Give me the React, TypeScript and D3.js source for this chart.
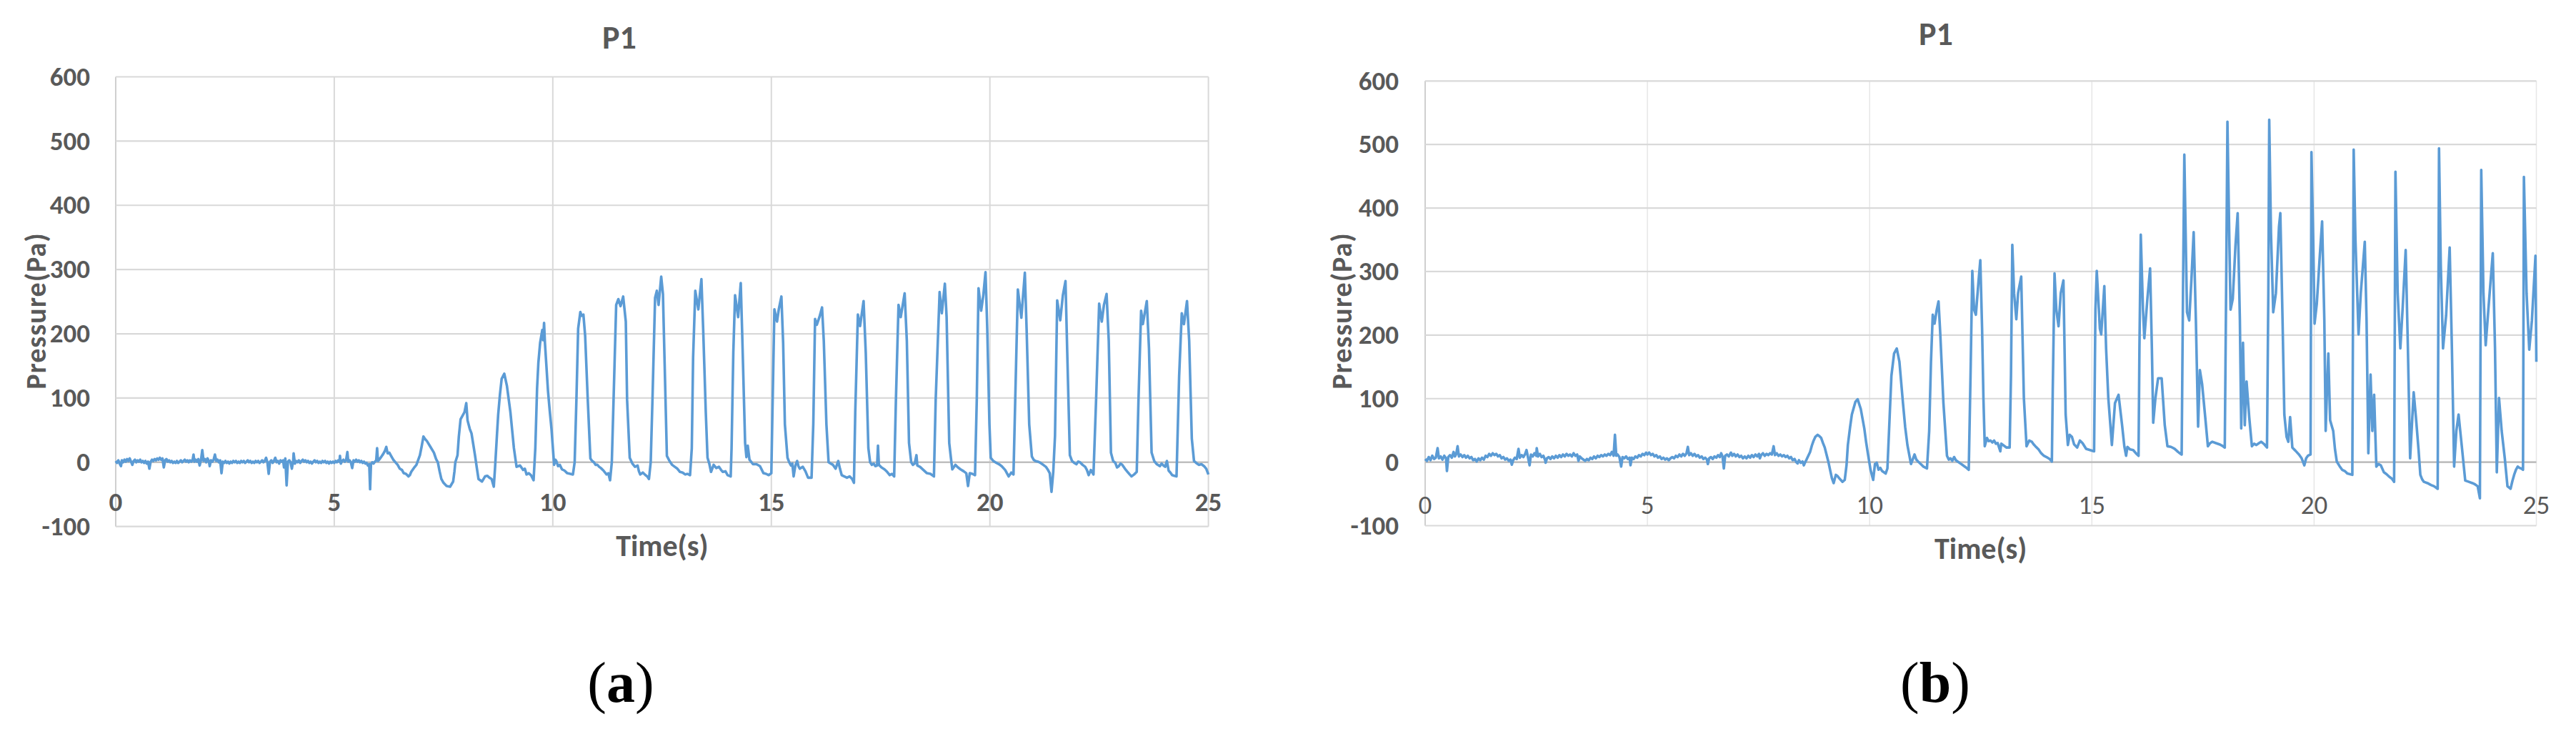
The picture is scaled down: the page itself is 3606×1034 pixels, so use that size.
import React from 'react';
import * as d3 from 'd3';

const yTicks = [-100, 0, 100, 200, 300, 400, 500, 600];
const xTicks = [0, 5, 10, 15, 20, 25];
const panelTitles = ['P1', 'P1'];
const panelLetters = ['a', 'b'];
const xTitle = 'Time(s)';
const yTitle = 'Pressure(Pa)';

// (a) time [s], pressure [Pa]
const seriesA: [number, number][] = [
  [0, 2], [0.03, -1], [0.06, 3], [0.09, -2], [0.12, -6], [0.14, 3], [0.17, 0], [0.2, 4], [0.23, 1], [0.26, 5],
  [0.29, 2], [0.32, 6], [0.35, 1], [0.38, -4], [0.41, 2], [0.44, 4], [0.47, 0], [0.5, 3], [0.53, 1], [0.56, 4],
  [0.59, 0], [0.62, 2], [0.65, -1], [0.68, 2], [0.71, -2], [0.74, 1], [0.77, -10], [0.8, 1], [0.83, 4], [0.86, 2],
  [0.89, 5], [0.92, 3], [0.95, 6], [0.98, 4], [1.01, 7], [1.04, 4], [1.07, 6], [1.1, -8], [1.13, 3], [1.16, 5],
  [1.19, 1], [1.22, 3], [1.25, 0], [1.28, 2], [1.31, -1], [1.34, 1], [1.37, -1], [1.4, 2], [1.43, -1], [1.46, 1],
  [1.49, 3], [1.52, 0], [1.55, 2], [1.58, 4], [1.61, 1], [1.64, 3], [1.67, 0], [1.7, 3], [1.73, 1], [1.76, 4],
  [1.78, 12], [1.8, 1], [1.83, 4], [1.86, 1], [1.89, 5], [1.92, -5], [1.95, 3], [1.98, 19], [2.01, 2], [2.04, 5],
  [2.07, 0], [2.1, 6], [2.13, 2], [2.15, -6], [2.18, 3], [2.21, 1], [2.24, 4], [2.27, 12], [2.3, 2], [2.33, 4],
  [2.36, 0], [2.39, 3], [2.42, -17], [2.45, 1], [2.48, -1], [2.51, 2], [2.54, -1], [2.57, 1], [2.6, -2], [2.63, 1],
  [2.66, -1], [2.69, 2], [2.72, 0], [2.75, 2], [2.78, -1], [2.81, 1], [2.84, -1], [2.87, 2], [2.9, 0], [2.93, 2],
  [2.96, -1], [2.99, 1], [3.02, 3], [3.05, 0], [3.08, 2], [3.11, -1], [3.14, 1], [3.17, -1], [3.2, 2], [3.23, 0],
  [3.26, 2], [3.29, -1], [3.32, 1], [3.35, 3], [3.38, 0], [3.41, 2], [3.44, 7], [3.47, 0], [3.5, -18], [3.53, 1],
  [3.56, 3], [3.59, -1], [3.62, 2], [3.65, 7], [3.68, 0], [3.71, 2], [3.74, -2], [3.77, 3], [3.8, 1], [3.83, 3],
  [3.85, -8], [3.88, 6], [3.91, -36], [3.94, 1], [3.97, 3], [4.0, 0], [4.03, -10], [4.06, 2], [4.07, 14], [4.1, -2],
  [4.13, 2], [4.16, 0], [4.19, 3], [4.22, -1], [4.25, 2], [4.28, 4], [4.31, 1], [4.34, 3], [4.37, 0], [4.4, 2],
  [4.43, -1], [4.46, 1], [4.49, -2], [4.52, 1], [4.55, 3], [4.58, 0], [4.61, 2], [4.64, -1], [4.67, 1], [4.7, -1],
  [4.73, 2], [4.76, 0], [4.79, 2], [4.82, -1], [4.85, 1], [4.88, -2], [4.91, 1], [4.94, -1], [4.97, 1], [5.0, -1],
  [5.03, 2], [5.06, 0], [5.09, 3], [5.12, 1], [5.13, 10], [5.15, -2], [5.18, 2], [5.21, 4], [5.24, 1], [5.27, 3],
  [5.3, 16], [5.32, 1], [5.35, 3], [5.38, 0], [5.41, -9], [5.44, 3], [5.47, 1], [5.5, 4], [5.53, 1], [5.56, 3],
  [5.59, 0], [5.62, 2], [5.65, -1], [5.68, 1], [5.71, -2], [5.74, -1], [5.77, -5], [5.8, -3], [5.82, -42], [5.84, -3],
  [5.87, 0], [5.9, -2], [5.93, 1], [5.96, 3], [5.98, 22], [6.0, 2], [6.04, 5], [6.08, 9], [6.12, 13], [6.16, 18],
  [6.19, 24], [6.22, 14], [6.26, 15], [6.3, 10], [6.35, 4], [6.4, 0], [6.45, -4], [6.5, -10], [6.55, -12], [6.59, -17],
  [6.64, -18], [6.7, -22], [6.73, -20], [6.76, -15], [6.82, -9], [6.88, -4], [6.96, 11], [7.0, 25], [7.04, 40], [7.08, 36],
  [7.12, 33], [7.2, 24], [7.28, 15], [7.33, 5], [7.37, 0], [7.41, -14], [7.45, -26], [7.5, -32], [7.57, -37], [7.65, -38],
  [7.72, -30], [7.75, -14], [7.77, 0], [7.82, 11], [7.85, 40], [7.89, 67], [7.98, 78], [8.02, 92], [8.05, 65], [8.1, 52],
  [8.14, 45], [8.18, 28], [8.22, 11], [8.26, -8], [8.3, -26], [8.38, -30], [8.45, -22], [8.5, -21], [8.55, -24], [8.6, -26],
  [8.65, -38], [8.68, -7], [8.72, 40], [8.75, 74], [8.79, 105], [8.83, 130], [8.89, 138], [8.95, 119], [9.03, 78], [9.07, 50],
  [9.11, 22], [9.17, -7], [9.21, -6], [9.25, -5], [9.32, -12], [9.36, -10], [9.4, -19], [9.45, -17], [9.5, -20], [9.56, -28],
  [9.6, 22], [9.64, 115], [9.67, 155], [9.71, 186], [9.76, 206], [9.78, 190], [9.8, 217], [9.82, 186], [9.89, 111], [9.93, 80],
  [9.97, 52], [10.03, -4], [10.06, 4], [10.08, 2], [10.12, -6], [10.16, -4], [10.21, -11], [10.27, -13], [10.33, -17], [10.4, -18],
  [10.46, -19], [10.5, 0], [10.54, 97], [10.58, 208], [10.63, 234], [10.66, 228], [10.7, 230], [10.74, 197], [10.8, 97], [10.86, 6],
  [10.9, 2], [10.94, 0], [10.98, -4], [11.02, -4], [11.06, -7], [11.1, -9], [11.16, -13], [11.23, -19], [11.27, -17], [11.31, -28],
  [11.35, 0], [11.39, 97], [11.45, 245], [11.5, 254], [11.55, 243], [11.61, 258], [11.67, 219], [11.7, 97], [11.76, 7], [11.82, -2],
  [11.88, -7], [11.94, -5], [11.97, -14], [12.0, -19], [12.06, -16], [12.12, -20], [12.16, -22], [12.2, -26], [12.24, 0], [12.28, 97],
  [12.34, 256], [12.38, 267], [12.42, 245], [12.48, 289], [12.52, 262], [12.56, 150], [12.61, 10], [12.67, 2], [12.73, -4], [12.79, -7],
  [12.85, -10], [12.91, -15], [12.97, -16], [13.03, -19], [13.08, -18], [13.14, -20], [13.18, 22], [13.21, 163], [13.26, 267], [13.3, 250],
  [13.33, 238], [13.4, 285], [13.44, 208], [13.5, 78], [13.54, 7], [13.58, -2], [13.62, -15], [13.68, -4], [13.74, -9], [13.8, -7],
  [13.85, -12], [13.89, -15], [13.95, -14], [14.0, -20], [14.07, -22], [14.09, 22], [14.13, 171], [14.17, 260], [14.24, 226], [14.3, 279],
  [14.33, 208], [14.4, 30], [14.43, 8], [14.46, 26], [14.5, 4], [14.58, -3], [14.66, -3], [14.74, -6], [14.82, -17], [14.88, -18],
  [14.94, -20], [15.0, -17], [15.02, 60], [15.07, 238], [15.13, 219], [15.17, 238], [15.23, 258], [15.27, 186], [15.31, 59], [15.37, 7],
  [15.41, 0], [15.45, -5], [15.48, -2], [15.51, -22], [15.55, -5], [15.59, 2], [15.62, -6], [15.65, -10], [15.72, -7], [15.78, -14],
  [15.84, -24], [15.92, -24], [15.96, 60], [16.0, 223], [16.04, 214], [16.1, 226], [16.16, 241], [16.2, 189], [16.26, 59], [16.31, 0],
  [16.36, -2], [16.41, -4], [16.47, -10], [16.53, 2], [16.57, -10], [16.61, -20], [16.67, -22], [16.73, -24], [16.79, -22], [16.85, -26],
  [16.89, -32], [16.92, 78], [16.98, 230], [17.03, 212], [17.11, 251], [17.16, 171], [17.22, 22], [17.26, 0], [17.3, -4], [17.34, -2],
  [17.38, -6], [17.42, -5], [17.44, 26], [17.46, -4], [17.52, -8], [17.59, -11], [17.65, -15], [17.71, -20], [17.76, -18], [17.81, -22],
  [17.85, 97], [17.91, 245], [17.96, 226], [18.05, 263], [18.1, 189], [18.15, 30], [18.2, 0], [18.24, -4], [18.28, -2], [18.32, 11],
  [18.34, -5], [18.4, -7], [18.48, -12], [18.56, -17], [18.64, -18], [18.72, -22], [18.76, 97], [18.85, 265], [18.9, 232], [18.97, 278],
  [19.01, 226], [19.07, 30], [19.12, 0], [19.14, -11], [19.21, -4], [19.27, -8], [19.33, -11], [19.4, -14], [19.46, -17], [19.5, -37],
  [19.54, -17], [19.6, -18], [19.66, -20], [19.7, 97], [19.74, 271], [19.8, 236], [19.85, 260], [19.9, 296], [19.94, 208], [19.99, 59],
  [20.02, 7], [20.08, 2], [20.15, -1], [20.21, -3], [20.27, -6], [20.35, -12], [20.43, -22], [20.49, -16], [20.54, -19], [20.58, 97],
  [20.64, 269], [20.72, 225], [20.8, 295], [20.84, 208], [20.9, 59], [20.96, 9], [21.0, 4], [21.04, 2], [21.1, 1], [21.16, -1],
  [21.22, -4], [21.28, -7], [21.33, -12], [21.37, -17], [21.41, -46], [21.45, -15], [21.49, 41], [21.54, 252], [21.61, 221], [21.67, 260],
  [21.73, 282], [21.77, 171], [21.83, 11], [21.88, 2], [21.93, -1], [21.98, -3], [22.02, 1], [22.06, 0], [22.12, -4], [22.18, -7],
  [22.22, -12], [22.26, -20], [22.31, -12], [22.37, -19], [22.43, 97], [22.5, 247], [22.56, 219], [22.61, 245], [22.67, 262], [22.72, 189],
  [22.77, 15], [22.82, 2], [22.87, -1], [22.91, -8], [22.95, -6], [22.99, -2], [23.03, -4], [23.09, -10], [23.15, -15], [23.2, -19],
  [23.24, -22], [23.3, -19], [23.36, -15], [23.4, 97], [23.46, 236], [23.5, 215], [23.59, 251], [23.64, 178], [23.7, 15], [23.76, 2],
  [23.82, -3], [23.89, -6], [23.93, -2], [23.97, -5], [24.01, -7], [24.05, 2], [24.09, -13], [24.13, -16], [24.17, -20], [24.22, -21],
  [24.27, -22], [24.33, 134], [24.39, 232], [24.44, 215], [24.51, 251], [24.56, 189], [24.62, 37], [24.67, 2], [24.72, -1], [24.78, -4],
  [24.84, -3], [24.9, -6], [24.95, -10], [25.0, -19],
];

// (b) time [s], pressure [Pa]
const seriesB: [number, number][] = [
  [0, 5], [0.04, 2], [0.08, 8], [0.12, 3], [0.16, 10], [0.2, 5], [0.24, 7], [0.28, 22], [0.31, 6], [0.35, 9],
  [0.39, 4], [0.43, 10], [0.47, 6], [0.49, -14], [0.52, 8], [0.56, 11], [0.6, 7], [0.64, 16], [0.67, 9], [0.7, 13],
  [0.73, 25], [0.76, 9], [0.8, 12], [0.84, 8], [0.88, 11], [0.92, 7], [0.96, 10], [1.0, 6], [1.04, 8], [1.08, 3],
  [1.12, 5], [1.16, 1], [1.2, 6], [1.24, 3], [1.28, 7], [1.32, 4], [1.36, 10], [1.4, 8], [1.44, 13], [1.48, 10],
  [1.52, 14], [1.56, 11], [1.6, 13], [1.64, 9], [1.68, 11], [1.72, 6], [1.76, 8], [1.8, 4], [1.84, 6], [1.88, 2],
  [1.92, 4], [1.95, -4], [1.98, 3], [2.02, 7], [2.06, 5], [2.1, 21], [2.13, 7], [2.17, 11], [2.21, 8], [2.25, 13],
  [2.28, 19], [2.31, 9], [2.35, -5], [2.38, 12], [2.42, 9], [2.46, 14], [2.5, 10], [2.51, 22], [2.54, 9], [2.58, 13],
  [2.62, 8], [2.66, 10], [2.7, 3], [2.71, -1], [2.74, 6], [2.78, 8], [2.82, 5], [2.86, 9], [2.9, 6], [2.94, 10],
  [2.98, 7], [3.02, 11], [3.06, 8], [3.1, 12], [3.14, 9], [3.18, 13], [3.22, 10], [3.26, 12], [3.3, 9], [3.34, 14],
  [3.38, 10], [3.42, 12], [3.45, 2], [3.48, 9], [3.52, 6], [3.56, 4], [3.6, 2], [3.64, 5], [3.68, 3], [3.72, 7],
  [3.76, 5], [3.8, 9], [3.84, 6], [3.88, 10], [3.92, 8], [3.96, 11], [4.0, 9], [4.04, 12], [4.08, 10], [4.12, 13],
  [4.16, 11], [4.2, 16], [4.24, 10], [4.27, 43], [4.3, 10], [4.33, 12], [4.37, 8], [4.41, -7], [4.44, 8], [4.48, 6],
  [4.52, 9], [4.56, 5], [4.6, 7], [4.62, -5], [4.65, 7], [4.69, 5], [4.73, 9], [4.77, 7], [4.81, 11], [4.85, 9],
  [4.89, 13], [4.93, 11], [4.97, 15], [5.0, 12], [5.04, 15], [5.08, 11], [5.12, 13], [5.16, 9], [5.2, 11], [5.24, 7],
  [5.28, 9], [5.32, 5], [5.36, 7], [5.4, 4], [5.44, 6], [5.48, 3], [5.52, 6], [5.56, 8], [5.6, 6], [5.64, 10],
  [5.68, 8], [5.72, 12], [5.76, 9], [5.8, 13], [5.84, 10], [5.88, 14], [5.91, 24], [5.94, 11], [5.98, 14], [6.02, 10],
  [6.06, 13], [6.1, 9], [6.14, 11], [6.18, 7], [6.22, 9], [6.26, 5], [6.3, 7], [6.34, 4], [6.36, -3], [6.39, 6],
  [6.43, 8], [6.47, 5], [6.51, 9], [6.55, 7], [6.59, 11], [6.63, 8], [6.66, 14], [6.69, 9], [6.72, -10], [6.75, 10],
  [6.79, 12], [6.83, 9], [6.88, 15], [6.91, 10], [6.95, 13], [6.99, 9], [7.03, 12], [7.07, 8], [7.11, 10], [7.15, 6],
  [7.19, 9], [7.23, 6], [7.27, 10], [7.31, 7], [7.35, 11], [7.39, 8], [7.43, 12], [7.47, 9], [7.51, 13], [7.53, 6],
  [7.56, 11], [7.6, 14], [7.64, 10], [7.68, 13], [7.72, 11], [7.76, 14], [7.8, 12], [7.84, 25], [7.87, 11], [7.91, 14],
  [7.95, 10], [7.99, 12], [8.03, 9], [8.07, 11], [8.11, 8], [8.15, 10], [8.19, 6], [8.23, 8], [8.27, 3], [8.31, 5],
  [8.35, 0], [8.38, -2], [8.41, 3], [8.45, -1], [8.49, 1], [8.52, -5], [8.55, 0], [8.58, 4], [8.62, 10], [8.66, 16],
  [8.7, 26], [8.74, 34], [8.78, 40], [8.83, 43], [8.87, 41], [8.91, 38], [8.95, 30], [8.99, 23], [9.03, 12], [9.07, 1],
  [9.11, -12], [9.15, -25], [9.19, -33], [9.24, -20], [9.28, -22], [9.31, -25], [9.35, -28], [9.39, -31], [9.44, -28], [9.48, -5],
  [9.51, 27], [9.56, 55], [9.6, 75], [9.68, 95], [9.73, 99], [9.8, 84], [9.88, 53], [9.92, 32], [9.96, 14], [10.02, -12],
  [10.08, -28], [10.12, -3], [10.16, -1], [10.2, -12], [10.24, -9], [10.28, -14], [10.32, -16], [10.36, -18], [10.4, -10], [10.45, 71],
  [10.49, 136], [10.55, 171], [10.61, 179], [10.67, 158], [10.75, 93], [10.8, 55], [10.85, 27], [10.93, -3], [11.01, 12], [11.05, 4],
  [11.09, 1], [11.15, -3], [11.21, -7], [11.29, -10], [11.34, 49], [11.38, 158], [11.42, 232], [11.46, 218], [11.51, 240], [11.55, 253],
  [11.59, 201], [11.66, 93], [11.74, 10], [11.78, 4], [11.82, 6], [11.86, 2], [11.9, 8], [11.94, 3], [11.98, 1], [12.04, -2],
  [12.1, -5], [12.16, -8], [12.23, -12], [12.27, 136], [12.31, 301], [12.35, 240], [12.39, 232], [12.45, 285], [12.49, 318], [12.53, 210],
  [12.56, 101], [12.59, 25], [12.64, 38], [12.68, 33], [12.72, 34], [12.76, 31], [12.8, 34], [12.84, 29], [12.88, 30], [12.94, 17],
  [12.96, 29], [13.02, 26], [13.08, 23], [13.15, 23], [13.18, 136], [13.21, 342], [13.25, 266], [13.3, 225], [13.34, 266], [13.41, 292],
  [13.47, 101], [13.53, 25], [13.59, 34], [13.65, 32], [13.69, 28], [13.73, 25], [13.8, 20], [13.86, 14], [13.92, 10], [13.98, 8],
  [14.05, 5], [14.1, 1], [14.12, 114], [14.16, 297], [14.2, 240], [14.25, 214], [14.3, 266], [14.36, 286], [14.41, 75], [14.46, 27],
  [14.5, 43], [14.55, 40], [14.6, 28], [14.67, 23], [14.73, 34], [14.79, 30], [14.87, 21], [14.96, 19], [15.05, 17], [15.08, 240],
  [15.11, 301], [15.18, 210], [15.21, 201], [15.28, 277], [15.32, 179], [15.37, 101], [15.45, 27], [15.52, 93], [15.6, 106], [15.68, 58],
  [15.73, 25], [15.77, 10], [15.8, 24], [15.86, 20], [15.93, 19], [15.99, 14], [16.05, 10], [16.07, 179], [16.1, 358], [16.15, 240],
  [16.18, 195], [16.25, 258], [16.31, 305], [16.35, 179], [16.38, 62], [16.43, 101], [16.49, 132], [16.57, 132], [16.64, 58], [16.7, 25],
  [16.78, 24], [16.86, 21], [16.94, 16], [17.02, 12], [17.05, 266], [17.08, 484], [17.11, 360], [17.14, 236], [17.19, 223], [17.24, 288],
  [17.29, 362], [17.34, 223], [17.39, 56], [17.43, 145], [17.48, 123], [17.55, 71], [17.61, 25], [17.66, 30], [17.71, 32], [17.79, 30],
  [17.87, 28], [17.93, 26], [17.99, 23], [18.02, 266], [18.05, 536], [18.09, 360], [18.12, 240], [18.17, 257], [18.23, 340], [18.28, 392],
  [18.33, 223], [18.36, 53], [18.4, 188], [18.44, 58], [18.48, 127], [18.54, 71], [18.6, 25], [18.65, 29], [18.7, 27], [18.76, 30],
  [18.81, 32], [18.88, 28], [18.94, 23], [18.97, 266], [18.99, 539], [19.03, 360], [19.08, 236], [19.14, 266], [19.21, 371], [19.24, 392],
  [19.29, 223], [19.33, 75], [19.38, 40], [19.42, 32], [19.46, 71], [19.51, 23], [19.58, 18], [19.66, 12], [19.72, 6], [19.78, -5],
  [19.82, 6], [19.86, 10], [19.92, 12], [19.94, 488], [19.98, 350], [20.01, 218], [20.06, 249], [20.13, 327], [20.18, 379], [20.23, 223],
  [20.26, 49], [20.29, 114], [20.32, 171], [20.36, 66], [20.43, 49], [20.47, 20], [20.51, 1], [20.57, -6], [20.63, -12], [20.69, -14],
  [20.75, -18], [20.81, -19], [20.86, -20], [20.89, 492], [20.93, 350], [21.0, 201], [21.05, 266], [21.14, 347], [21.18, 223], [21.22, 14],
  [21.27, 138], [21.31, 49], [21.35, 106], [21.4, -7], [21.45, -3], [21.5, -5], [21.57, -16], [21.63, -19], [21.69, -23], [21.75, -26],
  [21.8, -31], [21.83, 457], [21.88, 266], [21.94, 179], [21.99, 240], [22.06, 334], [22.11, 179], [22.16, 6], [22.24, 110], [22.29, 71],
  [22.35, 19], [22.39, -20], [22.43, -27], [22.47, -31], [22.55, -33], [22.63, -36], [22.7, -38], [22.78, -42], [22.81, 494], [22.85, 310],
  [22.9, 179], [22.97, 231], [23.05, 338], [23.1, 179], [23.15, -7], [23.2, 49], [23.25, 75], [23.32, 27], [23.4, -29], [23.48, -31],
  [23.56, -33], [23.62, -35], [23.68, -38], [23.73, -57], [23.76, 460], [23.81, 266], [23.86, 184], [23.92, 240], [24.02, 329], [24.07, 179],
  [24.11, -16], [24.16, 101], [24.22, 49], [24.29, 6], [24.35, -38], [24.42, -42], [24.46, -30], [24.5, -20], [24.54, -12], [24.58, -7],
  [24.62, -9], [24.66, -10], [24.7, -12], [24.72, 449], [24.78, 266], [24.84, 177], [24.9, 223], [24.98, 325], [25.0, 158],
];

const FONT = "Carlito, Calibri, Lato, Roboto, sans-serif";
const TEXT = '#595959';
const LINE = '#5b9bd5';

type PanelProps = {
  data: [number, number][];
  title: string;
  letter: string;
  px0: number; px1: number; py0: number; py1: number;
  yLabelX: number; xLabelY: number; xLabelBold: boolean;
  yTitleX: number; xTitleY: number; titleX: number; titleY: number;
  letterX: number; vGrid: string; vGridW: number;
};

function Panel(p: PanelProps) {
  const x = d3.scaleLinear().domain([0, 25]).range([p.px0, p.px1]);
  const y = d3.scaleLinear().domain([-100, 600]).range([p.py1, p.py0]);
  const line = d3.line<[number, number]>().x(d => x(d[0])).y(d => y(d[1]));
  const cx = (p.px0 + p.px1) / 2;
  return (
    <g>
      {xTicks.map(t => (
        <line key={'v' + t} x1={x(t)} x2={x(t)} y1={p.py0} y2={p.py1}
          stroke={t === 0 ? '#cfcfcf' : p.vGrid} strokeWidth={t === 0 ? 2 : p.vGridW} />
      ))}
      {yTicks.filter(v => v !== 0).map(v => (
        <line key={'h' + v} x1={p.px0} x2={p.px1} y1={y(v)} y2={y(v)} stroke="#d9d9d9" strokeWidth={2.2} />
      ))}
      <line x1={p.px0} x2={p.px1} y1={y(0)} y2={y(0)} stroke="#bfbfbf" strokeWidth={2.6} />
      <path d={line(p.data) || ''} fill="none" stroke={LINE} strokeWidth={3.6} strokeLinejoin="round" />
      {yTicks.map(v => (
        <text key={'yl' + v} x={p.yLabelX} y={y(v)} dy="0.33em" textAnchor="end"
          fontFamily={FONT} fontSize={37} fontWeight="bold" fill={TEXT}>{v}</text>
      ))}
      {xTicks.map(t => (
        <text key={'xl' + t} x={x(t)} y={p.xLabelY} textAnchor="middle"
          fontFamily={FONT} fontSize={37} fontWeight={p.xLabelBold ? 'bold' : 'normal'} fill={TEXT}>{t}</text>
      ))}
      <text x={cx} y={p.xTitleY} textAnchor="middle" fontFamily={FONT} fontSize={42} fontWeight="bold" fill={TEXT}>{xTitle}</text>
      <text transform={`translate(${p.yTitleX},${435}) rotate(-90)`} textAnchor="middle" letterSpacing={1}
        fontFamily={FONT} fontSize={40} fontWeight="bold" fill={TEXT}>{yTitle}</text>
      <text x={p.titleX} y={p.titleY} textAnchor="middle" fontFamily={FONT} fontSize={46} fontWeight="bold" fill={TEXT}>{p.title}</text>
      <text x={p.letterX} y={982} textAnchor="middle" fontFamily="'Palatino Linotype', 'Liberation Serif', 'DejaVu Serif', serif"
        fontSize={80} fill="#000">(<tspan fontWeight="bold">{p.letter}</tspan>)</text>
    </g>
  );
}

export default function App() {
  return (
    <svg width={3606} height={1034} style={{ position: 'absolute', left: 0, top: 0, background: '#fff' }}>
      <rect width={3606} height={1034} fill="#fff" />
      <Panel data={seriesA} title={panelTitles[0]} letter={panelLetters[0]}
        px0={162} px1={1691.6} py0={107.5} py1={736.7}
        yLabelX={126} xLabelY={715} xLabelBold={true}
        yTitleX={64} xTitleY={778} titleX={867} titleY={68} letterX={869}
        vGrid="#d9d9d9" vGridW={2} />
      <Panel data={seriesB} title={panelTitles[1]} letter={panelLetters[1]}
        px0={1995} px1={3550.5} py0={113.3} py1={735.5}
        yLabelX={1958} xLabelY={719} xLabelBold={false}
        yTitleX={1892} xTitleY={782} titleX={2710} titleY={63} letterX={2709}
        vGrid="#e6e6e6" vGridW={1.5} />
    </svg>
  );
}
